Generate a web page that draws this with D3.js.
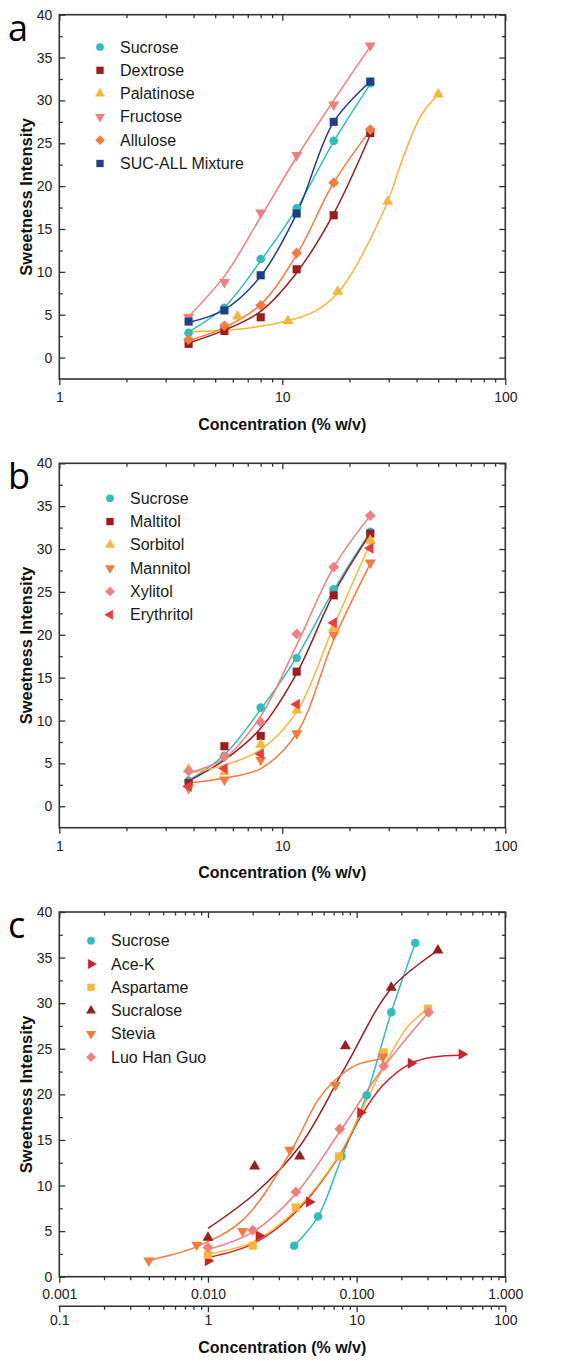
<!DOCTYPE html>
<html>
<head>
<meta charset="utf-8">
<script src="https://cdn.jsdelivr.net/npm/d3@7"></script>
<style>
  body { margin: 0; background: #fff; }
  svg { display: block; font-family: Arial, "Liberation Sans", sans-serif; }
</style>
</head>
<body>
<svg id="chart" width="580" height="1361"></svg>
<script>
// ---- panel a : sugars (concentration % w/v) ----
const concA = [3.8, 5.5, 8.0, 11.6, 17.0, 24.8];
const sucroseA = [2.9, 5.8, 11.5, 17.4, 25.3, 32.0];
const dextroseA = [1.6, 3.1, 4.7, 10.3, 16.6, 26.2];
const palatinoseConc = [6.3, 10.6, 17.7, 29.7, 50];
const palatinoseA = [4.8, 4.3, 7.7, 18.2, 30.7];
const fructoseA = [4.7, 8.8, 16.9, 23.6, 29.5, 36.4];
const alluloseA = [2.1, 3.7, 6.1, 12.2, 20.4, 26.6];
const sucAllA = [4.2, 5.5, 9.6, 16.8, 27.5, 32.2];

// fitted curves
const sucroseFitA = [3.0, 5.9, 11.3, 17.4, 25.2, 31.9];
const dextroseFitA = [1.7, 3.2, 5.4, 9.9, 16.8, 26.0];
const fructoseFitA = [4.8, 9.5, 16.4, 23.4, 30.0, 36.3];
const alluloseFitA = [2.0, 3.5, 6.2, 12.0, 20.4, 26.5];
const sucAllFitA = [4.1, 5.6, 9.5, 16.8, 27.5, 32.2];
const palatinoseFitX = [3.8, 6.3, 10.6, 14, 17.7, 21, 25, 29.7, 35, 42, 50];
const palatinoseFitY = [3.0, 3.3, 4.3, 5.4, 7.5, 10.3, 14.0, 18.2, 23.5, 28.3, 30.7];

// ---- panel b : polyols ----
const concB = [3.8, 5.5, 8.0, 11.6, 17.0, 24.8];
const sucroseB = [3.0, 5.9, 11.5, 17.3, 25.3, 32.0];
const maltitolB = [2.7, 7.0, 8.2, 15.7, 24.6, 31.8];
const sorbitolB = [4.3, 4.0, 7.2, 11.2, 20.8, 31.0];
const mannitolB = [2.1, 3.1, 5.4, 8.5, 20.0, 28.4];
const xylitolB = [4.1, 5.8, 9.8, 20.1, 27.9, 33.9];
const erythritolB = [2.3, 4.4, 6.1, 11.9, 21.4, 30.1];

const sucroseFitB = [3.0, 6.0, 11.3, 17.4, 25.2, 32.0];
const maltitolFitB = [2.95, 5.4, 9.1, 15.5, 24.8, 31.8];
const sorbitolFitB = [3.85, 4.8, 6.6, 11.0, 21.0, 30.7];
const mannitolFitB = [2.7, 3.3, 4.4, 8.5, 19.4, 28.3];
const xylitolFitB = [3.85, 5.6, 10.5, 18.8, 27.9, 33.9];

// ---- panel c : high intensity sweeteners ----
const sucroseConcC = [3.8, 5.5, 7.9, 11.7, 17.1, 24.8];
const sucroseC = [3.4, 6.6, 13.2, 19.9, 29.0, 36.6];
const aceKConc = [1.0, 2.2, 4.8, 10.6, 23.2, 51];
const aceKC = [1.75, 4.5, 8.2, 18.0, 23.4, 24.4];
const aspartameConc = [1.0, 2.0, 3.9, 7.6, 15.2, 30.2];
const aspartameC = [2.4, 3.4, 7.6, 13.2, 24.6, 29.4];
const sucraloseConc = [1.0, 2.06, 4.14, 8.4, 17.1, 35.2];
const sucraloseC = [4.3, 12.1, 13.2, 25.3, 31.7, 35.8];
const steviaConc = [0.40, 0.84, 1.71, 3.54, 7.2, 15.0];
const steviaC = [1.75, 3.5, 5.0, 13.9, 21.0, 24.1];
const luoConc = [1.0, 2.0, 3.9, 7.7, 15.2, 30.5];
const luoC = [3.2, 5.1, 9.3, 16.2, 23.1, 29.0];

const sucroseFitC = [3.4, 6.6, 13.0, 20.0, 29.0, 36.6];
const aceKFitX = [1.0, 2.0, 3.9, 7.6, 10.6, 15.0, 23.2, 33, 51];
const aceKFitY = [2.1, 3.6, 7.1, 13.2, 17.5, 21.0, 23.4, 24.1, 24.3];
const aspartameFitX = [1.0, 2.0, 3.9, 7.6, 11.7, 15.2, 22, 30.2];
const aspartameFitY = [2.5, 3.8, 7.3, 13.3, 19.4, 23.0, 27.4, 29.4];
const sucraloseFitY = [5.3, 9.1, 14.3, 23.0, 31.6, 35.8];
const steviaFitX = [0.40, 0.84, 1.71, 3.54, 5.5, 7.2, 9.9, 15.0];
const steviaFitY = [1.8, 3.3, 6.2, 13.5, 19.4, 21.6, 23.2, 23.9];
const luoFitY = [3.0, 4.9, 9.1, 15.9, 23.0, 29.0];

const yTicks = [0, 5, 10, 15, 20, 25, 30, 35, 40];
const yMinor = [2.5, 7.5, 12.5, 17.5, 22.5, 27.5, 32.5, 37.5];

const teal = '#2fbdbd', darkRed = '#9c1c20', yellow = '#fbb536',
  pink = '#f27e80', orange = '#f57a3b', navy = '#1f3f8b', red = '#e63d41', aceRed = '#d21f27';

const zip = (xs, ys) => xs.map((v, i) => [v, ys[i]]);

const panels = [
  {
    letter: 'a', top: 14.7, bottom: 379, yMin: -2.5, domain: [1, 100],
    legendX: 100, legendY: 47,
    series: [
      { name: 'Sucrose', color: teal, shape: 'circle', pts: zip(concA, sucroseA), fit: zip(concA, sucroseFitA) },
      { name: 'Dextrose', color: darkRed, shape: 'square', pts: zip(concA, dextroseA), fit: zip(concA, dextroseFitA) },
      { name: 'Palatinose', color: yellow, shape: 'triUp', pts: zip(palatinoseConc, palatinoseA), fit: zip(palatinoseFitX, palatinoseFitY) },
      { name: 'Fructose', color: pink, shape: 'triDown', pts: zip(concA, fructoseA), fit: zip(concA, fructoseFitA) },
      { name: 'Allulose', color: orange, shape: 'diamond', pts: zip(concA, alluloseA), fit: zip(concA, alluloseFitA) },
      { name: 'SUC-ALL Mixture', color: navy, shape: 'square', pts: zip(concA, sucAllA), fit: zip(concA, sucAllFitA) },
    ],
  },
  {
    letter: 'b', top: 463.3, bottom: 827.7, yMin: -2.5, domain: [1, 100],
    legendX: 110, legendY: 498.3,
    series: [
      { name: 'Sucrose', color: teal, shape: 'circle', pts: zip(concB, sucroseB), fit: zip(concB, sucroseFitB) },
      { name: 'Maltitol', color: darkRed, shape: 'square', pts: zip(concB, maltitolB), fit: zip(concB, maltitolFitB) },
      { name: 'Sorbitol', color: yellow, shape: 'triUp', pts: zip(concB, sorbitolB), fit: zip(concB, sorbitolFitB) },
      { name: 'Mannitol', color: orange, shape: 'triDown', pts: zip(concB, mannitolB), fit: zip(concB, mannitolFitB) },
      { name: 'Xylitol', color: pink, shape: 'diamond', pts: zip(concB, xylitolB), fit: zip(concB, xylitolFitB) },
      { name: 'Erythritol', color: red, shape: 'triLeft', pts: zip(concB, erythritolB), fit: null },
    ],
  },
  {
    letter: 'c', top: 912, bottom: 1276.7, yMin: 0, domain: [0.1, 100], secondAxis: [0.001, 1],
    legendX: 91, legendY: 940.7,
    series: [
      { name: 'Sucrose', color: teal, shape: 'circle', pts: zip(sucroseConcC, sucroseC), fit: zip(sucroseConcC, sucroseFitC) },
      { name: 'Ace-K', color: aceRed, shape: 'triRight', pts: zip(aceKConc, aceKC), fit: zip(aceKFitX, aceKFitY) },
      { name: 'Aspartame', color: yellow, shape: 'square', pts: zip(aspartameConc, aspartameC), fit: zip(aspartameFitX, aspartameFitY) },
      { name: 'Sucralose', color: darkRed, shape: 'triUp', pts: zip(sucraloseConc, sucraloseC), fit: zip(sucraloseConc, sucraloseFitY) },
      { name: 'Stevia', color: orange, shape: 'triDown', pts: zip(steviaConc, steviaC), fit: zip(steviaFitX, steviaFitY) },
      { name: 'Luo Han Guo', color: pink, shape: 'diamond', pts: zip(luoConc, luoC), fit: zip(luoConc, luoFitY) },
    ],
  },
];

const left = 59.3, right = 505.3;
const svg = d3.select('#chart');

// marker path + rotation for each shape
function markerPath(shape) {
  if (shape === 'circle') return [d3.symbol(d3.symbolCircle, 58)(), 0];
  if (shape === 'square') return [d3.symbol(d3.symbolSquare, 66)(), 0];
  if (shape === 'diamond') return [d3.symbol(d3.symbolSquare, 58)(), 45];
  const rot = { triUp: 0, triDown: 180, triLeft: -90, triRight: 90 }[shape];
  return [d3.symbol(d3.symbolTriangle, 52)(), rot];
}

function minorTicks(domain) {
  const out = [];
  for (let p = domain[0]; p < domain[1] * 0.999; p *= 10) {
    for (let k = 2; k <= 9; k++) out.push(p * k);
  }
  return out;
}
function majorTicks(domain) {
  const out = [];
  for (let p = domain[0]; p <= domain[1] * 1.001; p *= 10) out.push(p);
  return out;
}

function styleAxis(g) {
  g.select('.domain').remove();
  g.selectAll('line').attr('stroke', '#333').attr('stroke-width', 1.3);
  g.selectAll('text').attr('fill', '#222').style('font-size', '14px');
}

panels.forEach(p => {
  const x = d3.scaleLog().domain(p.domain).range([left, right]);
  const y = d3.scaleLinear().domain([p.yMin, 40]).range([p.bottom, p.top]);
  const g = svg.append('g');

  // bottom axis (ticks outward)
  g.append('g').attr('transform', `translate(0,${p.bottom})`)
    .call(d3.axisBottom(x).tickValues(minorTicks(p.domain)).tickSize(3.5).tickFormat(''))
    .call(styleAxis);
  if (p.secondAxis) {
    const x2 = d3.scaleLog().domain(p.secondAxis).range([left, right]);
    g.append('g').attr('transform', `translate(0,${p.bottom})`)
      .call(d3.axisBottom(x2).tickValues(majorTicks(p.secondAxis)).tickSize(6).tickPadding(6).tickFormat(d3.format('.3f')))
      .call(styleAxis);
    // second concentration axis below
    const y2 = p.bottom + 29.5;
    g.append('g').attr('transform', `translate(0,${y2})`)
      .call(d3.axisBottom(x).tickValues(minorTicks(p.domain)).tickSize(3.5).tickFormat(''))
      .call(styleAxis);
    g.append('g').attr('transform', `translate(0,${y2})`)
      .call(d3.axisBottom(x).tickValues(majorTicks(p.domain)).tickSize(6).tickPadding(3).tickFormat(d3.format('~g')))
      .call(styleAxis);
    g.append('line').attr('x1', left - 0.7).attr('x2', right + 0.7).attr('y1', y2).attr('y2', y2)
      .attr('stroke', '#333').attr('stroke-width', 1.6);
  } else {
    g.append('g').attr('transform', `translate(0,${p.bottom})`)
      .call(d3.axisBottom(x).tickValues(majorTicks(p.domain)).tickSize(6).tickPadding(7).tickFormat(d3.format('d')))
      .call(styleAxis);
  }

  // top axis (ticks inward)
  g.append('g').attr('transform', `translate(0,${p.top})`)
    .call(d3.axisTop(x).tickValues(minorTicks(p.domain)).tickSize(-3.5).tickFormat(''))
    .call(styleAxis);
  g.append('g').attr('transform', `translate(0,${p.top})`)
    .call(d3.axisTop(x).tickValues(majorTicks(p.domain)).tickSize(-6).tickFormat(''))
    .call(styleAxis);

  // left axis (ticks inward)
  g.append('g').attr('transform', `translate(${left},0)`)
    .call(d3.axisLeft(y).tickValues(yMinor).tickSize(-3.5).tickFormat(''))
    .call(styleAxis);
  g.append('g').attr('transform', `translate(${left},0)`)
    .call(d3.axisLeft(y).tickValues(yTicks).tickSize(-6).tickPadding(7))
    .call(styleAxis);
  // right axis
  g.append('g').attr('transform', `translate(${right},0)`)
    .call(d3.axisRight(y).tickValues(yMinor).tickSize(-3.5).tickFormat(''))
    .call(styleAxis);
  g.append('g').attr('transform', `translate(${right},0)`)
    .call(d3.axisRight(y).tickValues(yTicks).tickSize(-6).tickFormat(''))
    .call(styleAxis);

  // frame
  g.append('rect').attr('x', left).attr('y', p.top)
    .attr('width', right - left).attr('height', p.bottom - p.top)
    .attr('fill', 'none').attr('stroke', '#333').attr('stroke-width', 1.6);

  // axis titles
  const titleY = p.secondAxis ? p.bottom + 71 : p.bottom + 45;
  g.append('text').attr('x', (left + right) / 2).attr('y', titleY)
    .attr('text-anchor', 'middle').attr('dominant-baseline', 'central')
    .style('font-size', '16px').style('font-weight', 'bold').attr('fill', '#111')
    .text('Concentration (% w/v)');
  g.append('text')
    .attr('transform', `translate(26,${(p.top + p.bottom) / 2}) rotate(-90)`)
    .attr('text-anchor', 'middle').attr('dominant-baseline', 'central')
    .style('font-size', '16.5px').style('font-weight', 'bold').attr('fill', '#111')
    .text('Sweetness Intensity');

  // panel letter
  g.append('text').attr('x', 8).attr('y', p.top + 26)
    .style('font-family', '"Open Sans", sans-serif').style('font-size', '36px').attr('fill', '#000')
    .text(p.letter);

  // fitted curves
  const line = d3.line().x(d => x(d[0])).y(d => y(d[1])).curve(d3.curveCatmullRom.alpha(0.5));
  p.series.forEach(s => {
    if (!s.fit) return;
    g.append('path').attr('d', line(s.fit)).attr('fill', 'none')
      .attr('stroke', s.color).attr('stroke-width', 1.5);
  });

  // markers
  p.series.forEach(s => {
    const [path, rot] = markerPath(s.shape);
    g.append('g').selectAll('path').data(s.pts).join('path')
      .attr('d', path)
      .attr('transform', d => `translate(${x(d[0])},${y(d[1])}) rotate(${rot})`)
      .attr('fill', s.color);
  });

  // legend
  const leg = g.append('g');
  p.series.forEach((s, i) => {
    const ly = p.legendY + i * 23.3;
    const [path, rot] = markerPath(s.shape);
    leg.append('path').attr('d', path)
      .attr('transform', `translate(${p.legendX},${ly}) rotate(${rot}) scale(0.9)`)
      .attr('fill', s.color);
    leg.append('text').attr('x', p.legendX + 20).attr('y', ly)
      .attr('dominant-baseline', 'central').style('font-size', '16px').attr('fill', '#1a1a1a')
      .text(s.name);
  });
});
</script>
</body>
</html>
